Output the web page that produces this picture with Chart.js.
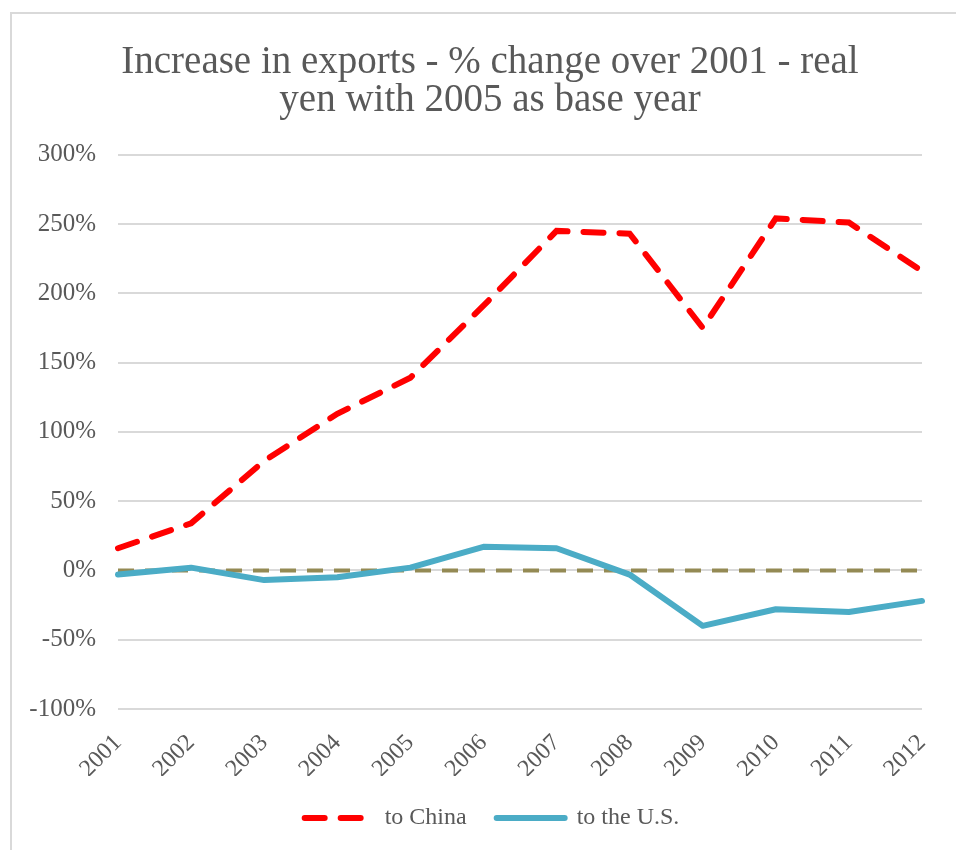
<!DOCTYPE html>
<html>
<head>
<meta charset="utf-8">
<script src="https://cdn.jsdelivr.net/npm/chart.js@4.4.0/dist/chart.umd.min.js"></script>
<style>
  html, body { margin: 0; padding: 0; background: #fff; }
  #wrap { position: relative; width: 956px; height: 850px; overflow: hidden; }
  #frame { position: absolute; left: 10px; top: 12px; width: 1000px; height: 900px; border: 2px solid #d9d9d9; box-sizing: border-box; }
  canvas { position: absolute; left: 0; top: 0; }
</style>
</head>
<body>
<div id="wrap">
  <div id="frame"></div>
  <canvas id="c" width="956" height="850"></canvas>
</div>
<script>
const years = ['2001','2002','2003','2004','2005','2006','2007','2008','2009','2010','2011','2012'];
const toChina = [16, 34, 79, 113, 139, 191, 245, 243, 175, 254, 251, 216];
const toUS = [-3, 2, -7, -5, 2, 17, 16, -3, -40, -28, -30, -22];
const zeroLine = [0, 0, 0, 0, 0, 0, 0, 0, 0, 0, 0, 0];
const titleLines = ['Increase in exports - % change over 2001 - real', 'yen with 2005 as base year'];

const FONT = "'Liberation Serif', serif";
const GREY = '#595959';

// shift title and legend centring to match the reference frame
const shiftBlocks = {
  id: 'shiftBlocks',
  afterLayout(chart) {
    if (chart.titleBlock) chart.titleBlock.left = chart.titleBlock.right - 864;
    if (chart.legend) chart.legend.left = chart.legend.right - 860;
  }
};

new Chart(document.getElementById('c'), {
  type: 'line',
  data: {
    labels: years,
    datasets: [
      { label: 'zero', data: zeroLine, borderColor: '#948A54', borderWidth: 4, borderDash: [16, 11], pointRadius: 0, order: 3 },
      { label: 'to China', data: toChina, borderColor: '#FF0000', backgroundColor: '#FF0000', borderWidth: 6, borderDash: [20, 16], borderCapStyle: 'round', pointRadius: 0, tension: 0, order: 1 },
      { label: 'to the U.S.', data: toUS, borderColor: '#4BACC6', backgroundColor: '#4BACC6', borderWidth: 6, borderCapStyle: 'round', borderJoinStyle: 'round', pointRadius: 0, tension: 0, order: 2 }
    ]
  },
  plugins: [shiftBlocks],
  options: {
    responsive: false,
    animation: false,
    layout: { padding: { left: 0, right: 34, top: 44, bottom: 10 } },
    plugins: {
      title: {
        display: true,
        text: titleLines,
        color: GREY,
        font: { family: FONT, size: 39, weight: 'normal', lineHeight: 0.97 },
        padding: { top: 0, bottom: 35 }
      },
      legend: {
        position: 'bottom',
        labels: {
          filter: (item) => item.text !== 'zero',
          generateLabels: (chart) => {
            const items = Chart.defaults.plugins.legend.labels.generateLabels(chart);
            items.forEach((it) => {
              const ds = chart.data.datasets[it.datasetIndex];
              it.lineDash = ds.borderDash || [];
              it.lineCap = 'round';
              it.lineWidth = 6;
            });
            return items;
          },
          usePointStyle: true,
          pointStyle: 'line',
          pointStyleWidth: 68,
          boxWidth: 68,
          boxHeight: 6,
          color: GREY,
          padding: 30,
          font: { family: FONT, size: 24 }
        }
      },
      tooltip: { enabled: false }
    },
    scales: {
      x: {
        offset: false,
        grid: { display: false, drawTicks: false },
        border: { display: false },
        ticks: {
          color: GREY,
          font: { family: FONT, size: 24 },
          maxRotation: 45, minRotation: 45,
          padding: 20
        },
        afterFit: (s) => { s.height = 67; s.paddingRight = 0; s.paddingLeft = 0; }
      },
      y: {
        min: -100, max: 300,
        grid: { color: '#d9d9d9', lineWidth: 2, drawTicks: false },
        border: { display: false },
        ticks: {
          stepSize: 50,
          color: GREY,
          font: { family: FONT, size: 25 },
          padding: 22,
          callback: (v) => v + '%'
        },
        afterFit: (s) => { s.width = 118; }
      }
    }
  }
});
</script>
</body>
</html>
